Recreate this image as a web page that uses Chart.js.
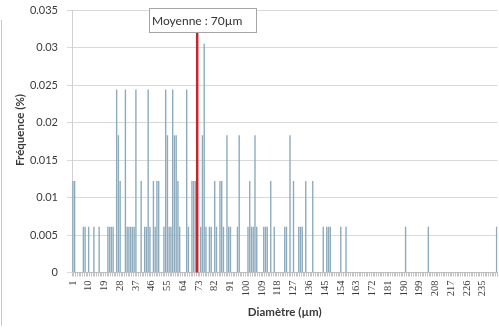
<!DOCTYPE html>
<html>
<head>
<meta charset="utf-8">
<script src="https://cdn.jsdelivr.net/npm/chart.js@4/dist/chart.umd.min.js"></script>
<style>
  html, body { margin: 0; padding: 0; background: #ffffff; }
  #wrap { width: 499px; height: 329px; }
</style>
</head>
<body>
<div id="wrap"><canvas id="c" width="499" height="329"></canvas></div>
<script>
// ---- data ----
const categoryCount = 243;                 // diameters 1..243 µm
const barDiameters = [1,2,7,8,10,13,16,21,22,23,24,26,27,28,31,32,33,34,35,36,37,40,42,43,44,45,47,48,49,50,53,54,55,56,57,58,59,60,61,62,66,67,69,70,71,72,74,75,76,77,79,80,82,83,85,86,87,89,90,91,95,96,101,102,103,104,105,106,110,111,112,114,116,122,123,125,127,130,131,132,134,138,144,146,147,148,154,157,191,204,243];
const barFrequencies = [0.0122,0.0122,0.0061,0.0061,0.0061,0.0061,0.0061,0.0061,0.0061,0.0061,0.0061,0.0244,0.0183,0.0122,0.0244,0.0061,0.0061,0.0061,0.0061,0.0061,0.0244,0.0122,0.0061,0.0061,0.0244,0.0061,0.0122,0.0061,0.0122,0.0122,0.0061,0.0244,0.0183,0.0061,0.0061,0.0244,0.0183,0.0183,0.0122,0.0061,0.0244,0.0061,0.0122,0.0122,0.0122,0.0122,0.0061,0.0183,0.0305,0.0061,0.0061,0.0061,0.0122,0.0061,0.0122,0.0122,0.0061,0.0183,0.0061,0.0061,0.0061,0.0183,0.0061,0.0122,0.0061,0.0061,0.0183,0.0061,0.0061,0.0061,0.0061,0.0122,0.0061,0.0061,0.0061,0.0183,0.0122,0.0061,0.0061,0.0061,0.0122,0.0122,0.0061,0.0061,0.0061,0.0061,0.0061,0.0061,0.0061,0.0061,0.0061];
const tickLabels = [1,10,19,28,37,46,55,64,73,82,91,100,109,118,127,136,145,154,163,172,181,190,199,208,217,226,235];
const yTickValues = [0,0.005,0.01,0.015,0.02,0.025,0.03,0.035];
const meanLabel = 'Moyenne : 70µm';
const meanLineCategory = 72;

// ---- build tables for the library ----
const categories = [];
for (let d = 1; d <= categoryCount; d++) categories.push(String(d));
const freqByDiameter = new Map(barDiameters.map((d, i) => [d, barFrequencies[i]]));
const seriesData = categories.map(c => freqByDiameter.has(+c) ? freqByDiameter.get(+c) : 0);

const frameLine = {
  id: 'frameLine',
  beforeDraw(chart) {
    const ctx = chart.ctx;
    ctx.save();
    ctx.strokeStyle = '#c8c8c8';
    ctx.lineWidth = 1;
    ctx.beginPath();
    ctx.moveTo(1.5, 20);
    ctx.lineTo(1.5, 326);
    ctx.stroke();
    // y axis title
    ctx.translate(20, 130);
    ctx.rotate(-Math.PI / 2);
    ctx.fillStyle = '#3a3a3a';
    ctx.font = 'bold 11.5px Lato, "Open Sans", sans-serif';
    ctx.textAlign = 'center';
    ctx.textBaseline = 'middle';
    ctx.fillText('Fréquence (%)', 0, 0);
    ctx.restore();
  }
};

const meanPlugin = {
  id: 'meanLine',
  afterDatasetsDraw(chart) {
    const { ctx, scales: { x, y } } = chart;
    const px = x.getPixelForValue(categories.indexOf(String(meanLineCategory)));
    const boxTop = 8.5, boxBottom = 32.5;
    ctx.save();
    ctx.strokeStyle = '#c4262e';
    ctx.lineWidth = 2.5;
    ctx.beginPath();
    ctx.moveTo(px, boxBottom);
    ctx.lineTo(px, y.getPixelForValue(0));
    ctx.stroke();
    ctx.fillStyle = '#ffffff';
    ctx.fillRect(px - 48, boxTop, 107, boxBottom - boxTop);
    ctx.strokeStyle = '#a6a6a6';
    ctx.lineWidth = 1;
    ctx.strokeRect(Math.round(px - 48) + 0.5, boxTop, 107, boxBottom - boxTop);
    ctx.fillStyle = '#333333';
    ctx.font = '12px Lato, "Open Sans", sans-serif';
    ctx.textAlign = 'center';
    ctx.textBaseline = 'middle';
    ctx.fillText(meanLabel, px, (boxTop + boxBottom) / 2 + 0.5);
    ctx.restore();
  }
};

new Chart(document.getElementById('c'), {
  type: 'bar',
  data: {
    labels: categories,
    datasets: [{
      data: seriesData,
      backgroundColor: '#8eabbd',
      borderWidth: 0,
      barPercentage: 0.8,
      categoryPercentage: 1
    }]
  },
  options: {
    responsive: false,
    animation: false,
    devicePixelRatio: 1,
    layout: { padding: { top: 10, right: 1.5, left: 0, bottom: 0 } },
    plugins: { legend: { display: false }, tooltip: { enabled: false } },
    scales: {
      x: {
        afterFit(s) { s.height = 56.5; s.paddingLeft = 0; s.paddingRight = 0; },
        grid: { display: true, drawOnChartArea: false, drawTicks: true, tickLength: 4, color: '#c4c4c4', offset: true },
        border: { display: true, color: '#bdbdbd' },
        ticks: {
          autoSkip: false,
          maxRotation: 90,
          minRotation: 90,
          padding: 4,
          color: '#3a3a3a',
          font: { family: '"Liberation Serif", "DejaVu Serif", serif', size: 10.5 },
          callback(v) { const l = categories[v]; return tickLabels.includes(+l) ? l : ''; }
        },
        title: {
          display: true,
          text: 'Diamètre (µm)',
          color: '#3a3a3a',
          font: { family: 'Lato, "Open Sans", sans-serif', size: 11.5, weight: 'bold' },
          padding: { top: 0, bottom: 10 }
        }
      },
      y: {
        min: 0,
        max: 0.035,
        afterFit(s) { s.width = 72; s.paddingTop = 0; s.paddingBottom = 0; },
        afterBuildTicks(s) { s.ticks = yTickValues.map(v => ({ value: v })); },
        grid: { color: '#d9d9d9', tickLength: 5, drawTicks: true },
        border: { display: true, color: '#d0d0d0' },
        ticks: {
          padding: 9,
          color: '#3a3a3a',
          font: { family: 'Lato, "Open Sans", sans-serif', size: 11 },
          callback(v) { return String(+(+v).toFixed(3)); }
        }
      }
    }
  },
  plugins: [frameLine, meanPlugin]
});
</script>
</body>
</html>
